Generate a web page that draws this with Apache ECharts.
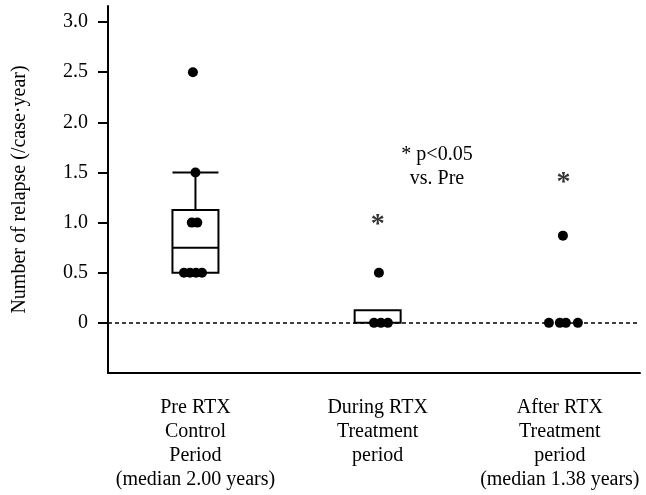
<!DOCTYPE html>
<html>
<head>
<meta charset="utf-8">
<script src="https://cdn.jsdelivr.net/npm/echarts@6/dist/echarts.min.js"></script>
<style>html,body{margin:0;padding:0;background:#fff}#c{width:646px;height:495px}</style>
</head>
<body>
<div id="c"></div>
<script>
const categories = ['Pre RTX\nControl\nPeriod\n(median 2.00 years)', 'During RTX\nTreatment\nperiod', 'After RTX\nTreatment\nperiod\n(median 1.38 years)'];
const yTicks = [0, 0.5, 1.0, 1.5, 2.0, 2.5, 3.0];
// box stats: [min, Q1, median, Q3, max]
const preBox = [0.5, 0.5, 0.75, 1.125, 1.5];
const duringBox = [0, 0, 0, 0.125, 0.125];
// individual values
const preValues = [2.5, 1.5, 1.0, 1.0, 0.5, 0.5, 0.5, 0.5];
const preJitter = [-0.014, 0, -0.02, 0.01, -0.063, -0.03, 0.003, 0.036];
const duringValues = [0.5, 0, 0, 0];
const duringJitter = [0.007, -0.02, 0.018, 0.056];
const afterValues = [0.87, 0, 0, 0, 0];
const afterJitter = [0.017, -0.06, 0, 0.033, 0.099];
// significance marks: [category position, y]
const sigMarks = [[2, 1.027], [3.02, 1.445]];

const font = 'Liberation Serif, Times New Roman, serif';
function pts(pos, vals, jit) { return vals.map((v, i) => [pos + jit[i], v]); }

const chart = echarts.init(document.getElementById('c'), null, {renderer: 'canvas'});
chart.setOption({
  animation: false,
  backgroundColor: '#fff',
  grid: {left: 108, right: 6, top: 6, bottom: 122},
  xAxis: {
    type: 'value', min: 0.52, max: 3.44,
    splitLine: {show: false},
    axisLine: {show: true, onZero: false, lineStyle: {color: '#000', width: 2}},
    axisTick: {show: false},
    axisLabel: {
      customValues: [1, 2, 3],
      formatter: v => categories[Math.round(v) - 1],
      fontFamily: font, fontSize: 20, lineHeight: 24, color: '#000', margin: 23
    }
  },
  yAxis: {
    type: 'value', min: -0.5, max: 3.16,
    name: 'Number of relapse (/case\u00B7year)',
    nameLocation: 'middle', nameGap: 78, nameRotate: 90,
    nameTextStyle: {fontFamily: font, fontSize: 20, color: '#000'},
    splitLine: {show: false},
    axisLine: {show: true, onZero: false, lineStyle: {color: '#000', width: 2}},
    axisTick: {show: true, customValues: yTicks, length: 10, lineStyle: {color: '#000', width: 2}},
    axisLabel: {
      customValues: yTicks,
      formatter: v => v === 0 ? '0' : v.toFixed(1),
      fontFamily: font, fontSize: 20, color: '#000', margin: 20
    }
  },
  graphic: [
    {type: 'text', x: 437, y: 155, style: {text: '* p<0.05', font: '20px ' + font, fill: '#000', align: 'center', verticalAlign: 'middle'}},
    {type: 'text', x: 437, y: 179, style: {text: 'vs. Pre', font: '20px ' + font, fill: '#000', align: 'center', verticalAlign: 'middle'}}
  ],
  series: [
    {
      type: 'boxplot',
      boxWidth: [46, 46],
      data: [[1].concat(preBox), [2].concat(duringBox)],
      itemStyle: {color: '#fff', borderColor: '#000', borderWidth: 2},
      z: 2,
      markLine: {
        silent: true, symbol: 'none', label: {show: false},
        lineStyle: {color: '#000', type: [4, 3], width: 1.5},
        data: [{yAxis: 0}]
      }
    },
    {
      type: 'scatter', symbolSize: 10, itemStyle: {color: '#000', opacity: 1},
      data: pts(1, preValues, preJitter).concat(pts(2, duringValues, duringJitter), pts(3, afterValues, afterJitter)),
      z: 5
    },
    {
      type: 'scatter', symbolSize: 1, itemStyle: {color: 'transparent'},
      data: sigMarks,
      label: {show: true, position: 'inside', formatter: '*', fontFamily: font, fontSize: 28, fontWeight: 'bold', color: '#000', offset: [0, 5]},
      z: 6
    }
  ]
});
</script>
</body>
</html>
